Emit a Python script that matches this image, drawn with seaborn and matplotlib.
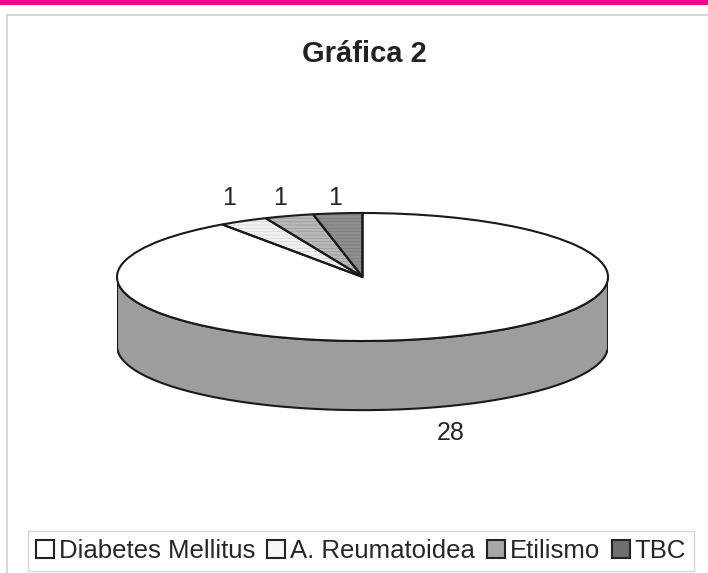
import numpy as np
import matplotlib
matplotlib.use("Agg")
import matplotlib.pyplot as plt
from matplotlib.patches import Patch, Rectangle, Polygon
import seaborn as sns

# data
categories = ["Diabetes Mellitus", "A. Reumatoidea", "Etilismo", "TBC"]
counts = [28, 1, 1, 1]
title = "Gráfica 2"

sns.set_theme(style="white")
plt.rcParams["font.family"] = ["Liberation Sans", "DejaVu Sans"]
plt.rcParams["hatch.linewidth"] = 0.6

W, H = 708, 573
fig = plt.figure(figsize=(W / 100, H / 100), dpi=100)

# page decoration: pink bar and light frame
fig.add_artist(Rectangle((0, 1 - 5 / H), 1, 5 / H, transform=fig.transFigure,
                         color="#e9078b", lw=0))
fig.add_artist(Rectangle((7 / W, -0.05), 1.0, 1 - 15 / H + 0.05,
                         transform=fig.transFigure, fill=False,
                         ec="#cfcfcf", lw=1.2))

fig.text(364 / W, 1 - 54 / H, title, ha="center", va="center",
         fontsize=21, fontweight="bold", color="#222222")

top_colors = ["#ffffff", "#f2f2f2", "#b9b9b9", "#8f8f8f"]
hatch_colors = ["#ffffff", "#d8d8d8", "#9a9a9a", "#7a7a7a"]
legend_colors = ["#ffffff", "#f7f7f7", "#a6a6a6", "#6f6f6f"]
wall_color = "#9d9d9d"
edge = "#1a1a1a"

# ellipse geometry (pixels) for the 3D look
depth = 1.08
pad = 0.1
cx, cy, rx, ry = 362.5, 277, 245.5, 64
ax = fig.add_axes([(cx - rx) / W, 1 - (cy + ry * (1 + depth + pad)) / H,
                   2 * rx / W, ry * (2 + depth + pad) / H])

# side wall of the front half
t = np.linspace(np.pi, 2 * np.pi, 300)
wx = np.concatenate([np.cos(t), np.cos(t[::-1])])
wy = np.concatenate([np.sin(t), np.sin(t[::-1]) - depth])
ax.add_patch(Polygon(np.column_stack([wx, wy]), closed=True, fc=wall_color,
                     ec=edge, lw=1.5, zorder=1))

# top face: fill, hatch, outlines
wedges, _ = ax.pie(counts, colors=top_colors, startangle=90, counterclock=False,
                   radius=1, wedgeprops=dict(linewidth=0))
for w in wedges:
    w.set_zorder(2)
hw, _ = ax.pie(counts, startangle=90, counterclock=False, radius=1,
               wedgeprops=dict(fill=False, linewidth=0))
for w, hc, c in zip(hw, hatch_colors, categories):
    w.set_zorder(3)
    if c != "Diabetes Mellitus":
        w.set_edgecolor(hc)
        w.set_hatch("-----")
ew, _ = ax.pie(counts, startangle=90, counterclock=False, radius=1,
               wedgeprops=dict(fill=False, edgecolor=edge, linewidth=1.5))
for w in ew:
    w.set_zorder(4)

ax.set_aspect("auto")
ax.set_xlim(-1, 1)
ax.set_ylim(-1 - depth - pad, 1)
ax.axis("off")

# value labels
for w, v in zip(wedges, counts):
    mid = np.deg2rad((w.theta1 + w.theta2) / 2)
    if np.sin(mid) > 0:
        x, y = 1.12 * np.cos(mid), 1.24
    else:
        x, y = 1.2 * np.cos(mid), np.sin(mid) - depth - 0.4
    ax.text(x, y, str(v), ha="center", va="center", fontsize=18,
            color="#262626")

handles = [Patch(fc=c, ec="#222222", lw=1.5) for c in legend_colors]
fig.legend(handles=handles, labels=categories, loc="center",
           bbox_to_anchor=(361 / W, 1 - 551 / H), ncol=4, frameon=True,
           fancybox=False, edgecolor="#cccccc", fontsize=18.5,
           handlelength=0.7, handleheight=0.7, handletextpad=0.2,
           columnspacing=0.45, borderpad=0.3, labelcolor="#262626")

fig.savefig("out.png", dpi=100)
